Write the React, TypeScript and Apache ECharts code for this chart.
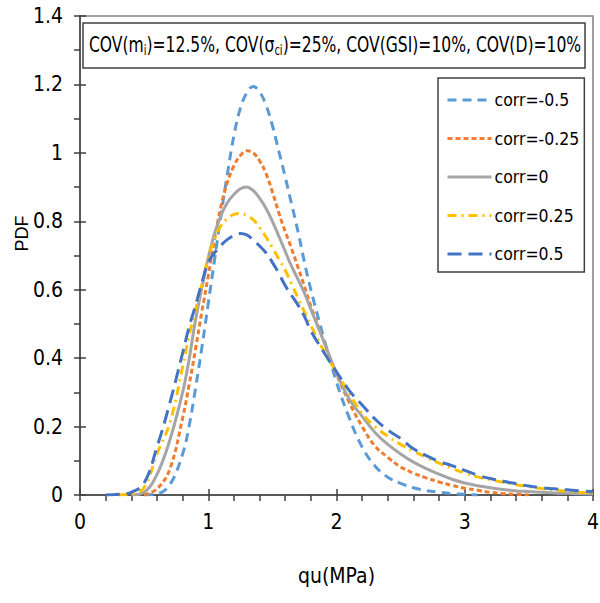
import React, { useEffect, useRef } from "react";
import * as echarts from "echarts";

const qu = [0.2, 0.3, 0.4, 0.5, 0.6, 0.7, 0.8, 0.85, 0.9, 0.95, 1.0, 1.05, 1.1, 1.15, 1.2, 1.25, 1.3, 1.35, 1.4, 1.45, 1.5, 1.55, 1.6, 1.65, 1.7, 1.75, 1.8, 1.9, 2.0, 2.1, 2.2, 2.3, 2.4, 2.5, 2.6, 2.7, 2.8, 2.9, 3.0, 3.1, 3.2, 3.3, 3.4, 3.5, 3.6, 3.7, 3.8, 3.9, 4.0];

const corrM05 = [null, null, null, 0.0, 0.003, 0.03, 0.12, 0.2, 0.31, 0.43, 0.56, 0.69, 0.82, 0.94, 1.05, 1.13, 1.175, 1.194, 1.178, 1.14, 1.08, 1.005, 0.93, 0.85, 0.77, 0.68, 0.6, 0.46, 0.33, 0.225, 0.14, 0.085, 0.052, 0.034, 0.021, 0.013, 0.008, 0.004, 0.002, 0.0, null, null, null, null, null, null, null, null, null];
const corrM025 = [null, null, null, 0.0, 0.018, 0.075, 0.225, 0.32, 0.425, 0.535, 0.64, 0.75, 0.845, 0.915, 0.962, 0.992, 1.006, 1.0, 0.977, 0.94, 0.886, 0.825, 0.77, 0.72, 0.665, 0.61, 0.552, 0.45, 0.353, 0.27, 0.2, 0.143, 0.11, 0.082, 0.064, 0.05, 0.038, 0.028, 0.02, 0.014, 0.008, 0.004, 0.002, 0.0, null, null, null, null, null];
const corr0 = [null, null, 0.0, 0.008, 0.06, 0.16, 0.3, 0.395, 0.51, 0.605, 0.693, 0.765, 0.818, 0.855, 0.878, 0.895, 0.9, 0.89, 0.868, 0.838, 0.8, 0.757, 0.712, 0.668, 0.63, 0.59, 0.543, 0.45, 0.356, 0.28, 0.23, 0.183, 0.148, 0.12, 0.096, 0.077, 0.061, 0.046, 0.035, 0.027, 0.021, 0.016, 0.012, 0.01, 0.008, 0.006, 0.005, 0.004, 0.003];
const corrP025 = [null, 0.0, 0.003, 0.022, 0.12, 0.21, 0.374, 0.465, 0.54, 0.615, 0.695, 0.75, 0.788, 0.808, 0.82, 0.823, 0.817, 0.805, 0.782, 0.754, 0.723, 0.69, 0.657, 0.617, 0.575, 0.535, 0.496, 0.422, 0.358, 0.297, 0.238, 0.2, 0.172, 0.148, 0.128, 0.11, 0.093, 0.078, 0.064, 0.053, 0.045, 0.037, 0.03, 0.024, 0.019, 0.015, 0.011, 0.008, 0.006];
const corrP05 = [0.0, 0.002, 0.008, 0.035, 0.14, 0.268, 0.415, 0.49, 0.553, 0.62, 0.68, 0.708, 0.73, 0.747, 0.758, 0.764, 0.76, 0.746, 0.728, 0.708, 0.68, 0.648, 0.612, 0.583, 0.555, 0.522, 0.48, 0.418, 0.36, 0.305, 0.263, 0.222, 0.19, 0.165, 0.135, 0.115, 0.098, 0.086, 0.072, 0.058, 0.048, 0.04, 0.033, 0.026, 0.021, 0.018, 0.015, 0.012, 0.01];

const seriesNames = ["corr=-0.5", "corr=-0.25", "corr=0", "corr=0.25", "corr=0.5"];
const seriesValues = [corrM05, corrM025, corr0, corrP025, corrP05];
const seriesColors = ["#5B9BD5", "#ED7D31", "#A5A5A5", "#FFC000", "#4472C4"];
const seriesDashes: (number[] | "solid")[] = [[9, 6], [5, 3], "solid", [9, 5, 2, 5], [14, 7]];

const titleText = "COV(m{sub|i})=12.5%, COV(σ{sub|ci})=25%, COV(GSI)=10%, COV(D)=10%";
const xAxisName = "qu(MPa)";
const yAxisName = "PDF";

const FONT = "'DejaVu Sans Condensed', 'DejaVu Sans', sans-serif";

export default function App() {
  const ref = useRef<HTMLDivElement>(null);
  useEffect(() => {
    if (!ref.current) return;
    const chart = echarts.init(ref.current, null, { renderer: "svg" });
    const axisColor = "#404040";
    const xBase = {
      type: "value" as const,
      min: 0,
      max: 4,
      interval: 1,
      gridIndex: 0,
      splitLine: { show: false },
    };
    const yBase = {
      type: "value" as const,
      min: 0,
      max: 1.4,
      interval: 0.2,
      gridIndex: 0,
      splitLine: { show: false },
    };
    chart.setOption({
      animation: false,
      backgroundColor: "#ffffff",
      graphic: [
        {
          type: "rect",
          shape: { x: 83, y: 23, width: 502, height: 45 },
          style: { fill: "#ffffff", stroke: axisColor, lineWidth: 1.5 },
          z: 10,
        },
        {
          type: "text",
          x: 89,
          y: 45,
          scaleX: 0.787,
          z: 11,
          style: {
            text: titleText,
            fontFamily: FONT,
            fontSize: 22,
            fill: "#000",
            verticalAlign: "middle",
            rich: {
              sub: { fontFamily: FONT, fontSize: 14, padding: [10, 0, 0, 0], fill: "#000" },
            },
          },
        },
      ],
      legend: {
        orient: "vertical",
        left: 438,
        top: 78,
        padding: [13, 5, 9, 8],
        itemGap: 20.5,
        itemWidth: 44,
        itemHeight: 20,
        borderWidth: 1.5,
        borderColor: axisColor,
        backgroundColor: "#ffffff",
        data: seriesNames,
        itemStyle: { opacity: 0 },
        lineStyle: { width: 3 },
        textStyle: { fontFamily: FONT, fontSize: 17.5, color: "#000", padding: [0, 0, 0, -2] },
      },
      grid: {
        left: 80,
        right: 7,
        top: 16,
        bottom: 108,
        show: true,
        outerBoundsMode: "none",
        containLabel: false,
        borderColor: "#808080",
        borderWidth: 1.5,
        backgroundColor: "transparent",
      },
      xAxis: [
        {
          ...xBase,
          name: xAxisName,
          nameLocation: "middle",
          nameGap: 70,
          nameMoveOverlap: false,
          nameTextStyle: { fontFamily: FONT, fontSize: 21, color: "#000" },
          axisLine: { show: true, lineStyle: { color: axisColor, width: 1.5 } },
          axisTick: { show: true, inside: false, length: 6, lineStyle: { color: axisColor, width: 1.5 } },
          minorTick: { show: true, splitNumber: 5, length: 6, lineStyle: { color: axisColor, width: 1.5 } },
          axisLabel: { fontFamily: FONT, fontSize: 21, color: "#000", margin: 16 },
        },
        {
          ...xBase,
          position: "bottom",
          axisLine: { show: false },
          axisTick: { show: true, inside: true, length: 6, lineStyle: { color: axisColor, width: 1.5 } },
          axisLabel: { show: false },
        },
      ],
      yAxis: [
        {
          ...yBase,
          name: yAxisName,
          nameLocation: "middle",
          nameGap: 49,
          nameRotate: 90,
          nameMoveOverlap: false,
          nameTextStyle: {
            fontFamily: "'Liberation Sans', Arial, sans-serif",
            fontSize: 18,
            color: "#000",
            padding: [0, 0, 0, 44],
          },
          axisLine: { show: true, lineStyle: { color: axisColor, width: 1.5 } },
          axisTick: { show: true, inside: false, length: 6, lineStyle: { color: axisColor, width: 1.5 } },
          minorTick: { show: true, splitNumber: 2, length: 6, lineStyle: { color: axisColor, width: 1.5 } },
          axisLabel: { fontFamily: FONT, fontSize: 21, color: "#000", margin: 17 },
        },
        {
          ...yBase,
          position: "left",
          offset: 0,
          axisLine: { show: false },
          axisTick: { show: true, inside: true, length: 6, lineStyle: { color: axisColor, width: 1.5 } },
          axisLabel: { show: false },
        },
      ],
      series: seriesNames.map((name, i) => ({
        name,
        type: "line",
        xAxisIndex: 0,
        yAxisIndex: 0,
        smooth: 0.4,
        symbol: "none",
        showSymbol: false,
        clip: true,
        data: qu
          .map((x, j) => [x, seriesValues[i][j]])
          .filter((p) => p[1] !== null),
        lineStyle: { color: seriesColors[i], width: 3, type: seriesDashes[i] },
        itemStyle: { color: seriesColors[i] },
      })),
    });
    return () => chart.dispose();
  }, []);
  return <div ref={ref} style={{ width: 600, height: 603, position: "absolute", left: 0, top: 0 }} />;
}
